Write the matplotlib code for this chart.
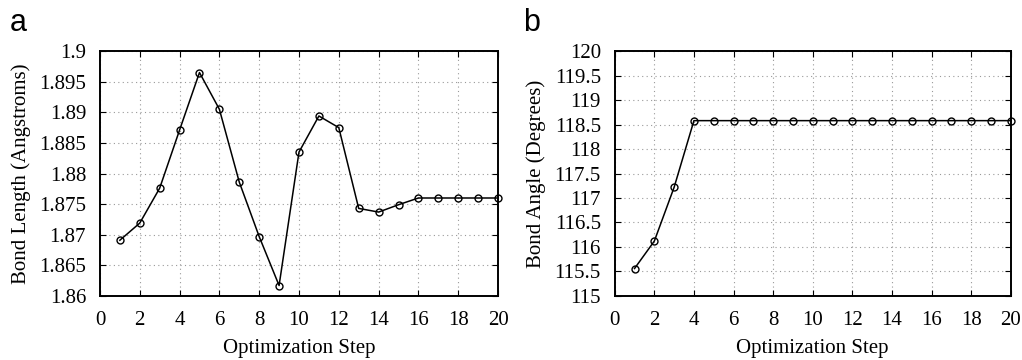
import matplotlib.pyplot as plt
import numpy as np

# dados
passos = np.arange(1, 21)
comprimento = [1.8691, 1.8719, 1.8776, 1.8871, 1.8965, 1.8905, 1.8786, 1.8697, 1.8617, 1.8835,
               1.8894, 1.8875, 1.8743, 1.8737, 1.8749, 1.8760, 1.8760, 1.8760, 1.8760, 1.8760]
angulo = [115.56, 116.12, 117.22, 118.58, 118.58, 118.58, 118.58, 118.58, 118.58, 118.58,
          118.58, 118.58, 118.58, 118.58, 118.58, 118.58, 118.58, 118.58, 118.58, 118.58]

plt.rcParams['font.family'] = 'Liberation Serif'

fig = plt.figure(figsize=(10.22, 3.6), dpi=100)
ax1 = fig.add_axes([0.0978, 0.178, 0.3895, 0.680])
ax2 = fig.add_axes([0.6015, 0.178, 0.3875, 0.680])


def estilo(ax, yticks, ylabel):
    ax.set_xlim(0, 20)
    ax.set_xticks(np.arange(0, 21, 2))
    ax.set_ylim(yticks[0], yticks[-1])
    ax.set_yticks(yticks)
    ax.set_yticklabels(['%g' % round(v, 4) for v in yticks])
    ax.grid(True, linestyle=(0, (1, 3)), color='#999999', linewidth=0.8)
    ax.tick_params(direction='in', top=True, right=True, length=4, width=0.8, labelsize=15)
    ax.tick_params(axis='y', pad=10)
    ax.tick_params(axis='x', pad=11)
    for s in ax.spines.values():
        s.set_linewidth(1.4)
    ax.set_xlabel('Optimization Step', fontsize=15, labelpad=6)
    ax.set_ylabel(ylabel, fontsize=15, labelpad=6)


ax1.plot(passos, comprimento, color='black', linewidth=1.1, marker='o', markersize=5,
         markerfacecolor='none', markeredgewidth=1.0, clip_on=False, zorder=3)
estilo(ax1, np.linspace(1.86, 1.9, 9), 'Bond Length (Angstroms)')

ax2.plot(passos, angulo, color='black', linewidth=1.1, marker='o', markersize=5,
         markerfacecolor='none', markeredgewidth=1.0, clip_on=False, zorder=3)
estilo(ax2, np.linspace(115, 120, 11), 'Bond Angle (Degrees)')

fig.text(0.010, 0.915, 'a', fontsize=22, family='Liberation Sans')
fig.text(0.512, 0.915, 'b', fontsize=22, family='Liberation Sans')

plt.savefig('out.png', dpi=100)
